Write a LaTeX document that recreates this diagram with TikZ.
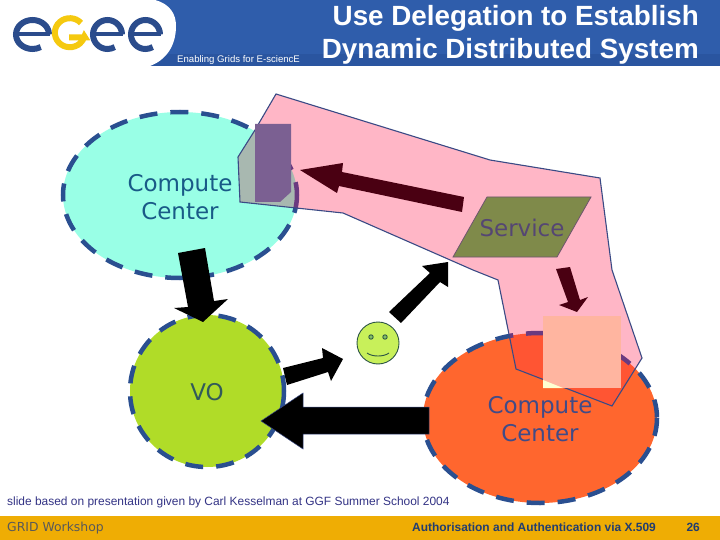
\documentclass[tikz,border=0pt]{standalone}
\usepackage{fontspec}
\setmainfont{Liberation Sans}
\newfontfamily\dvu{DejaVu Sans}
\definecolor{bandblue}{HTML}{2F5DAB}
\definecolor{banddark}{HTML}{2A55A0}
\definecolor{logoblue}{HTML}{2B4C8C}
\definecolor{logoyel}{HTML}{F5C90F}
\definecolor{dashblue}{HTML}{2A4F90}
\definecolor{pinkreg}{HTML}{FFB6C6}
\definecolor{edgeblue}{HTML}{3A4A85}
\definecolor{footy}{HTML}{EFAD04}
\definecolor{darkred}{HTML}{4A0012}
\definecolor{cyanfill}{HTML}{99FFE6}
\definecolor{limefill}{HTML}{B0DC28}
\definecolor{orangefill}{HTML}{FF662E}
\definecolor{greyover}{HTML}{A8B8B0}
\definecolor{redover}{HTML}{FF5533}
\definecolor{purpledash}{HTML}{6A3A80}
\def\regionpath{(276,94) -- (490,160) -- (600,178) -- (612,270) -- (642,358) -- (612,406) -- (516,369) -- (498,280) -- (473,270) -- (343,213) -- (240,202) -- (238,157) -- (255,130) -- cycle}
\tikzset{
  centre/.style={line width=4.5pt,dash pattern=on 18pt off 13pt,draw=dashblue},
  bigtext/.style={font=\dvu\fontsize{23}{28}\selectfont,align=center,inner sep=0pt},
  eletter/.style={line width=6pt,draw=logoblue,line cap=butt},
  ebar/.style={line width=4pt,draw=logoblue,line cap=butt},
  blackarrow/.style={fill=black,draw=none},
  redarrow/.style={fill=darkred,draw=none},
  smileline/.style={draw={rgb,255:red,45;green,85;blue,70},line width=.9pt},
}
\begin{document}
\begin{tikzpicture}[x=1pt,y=-1pt]
\useasboundingbox (0,0) rectangle (720,540);
\fill[white] (0,0) rectangle (720,540);
% header
\fill[bandblue] (140,0) rectangle (720,66);
\fill[banddark] (150,54) rectangle (720,66);
\fill[white] (0,0) -- (155,0) .. controls (170,4) and (176,14) .. (176,26) .. controls (176,46) and (166,60) .. (150,66) -- (0,66) -- cycle;
% logo
\draw[eletter] (49,34.5) arc[start angle=0,end angle=-300,x radius=16.5,y radius=14.5];
\draw[ebar] (17,34.5) -- (50,34.5);
\draw[line width=6pt,draw=logoyel] (81,23) arc[start angle=-42,end angle=-345,x radius=15,y radius=14.5] -- (85,37.5) -- (69,37.5);
\draw[eletter] (122,34.5) arc[start angle=0,end angle=-300,x radius=14.5,y radius=14.5];
\draw[ebar] (93,34.5) -- (123,34.5);
\draw[eletter] (160,34.5) arc[start angle=0,end angle=-300,x radius=14.5,y radius=14.5];
\draw[ebar] (131,34.5) -- (161,34.5);
\node[anchor=west,inner sep=0pt,text=white,font=\fontsize{9.6}{11}\selectfont] (tag) at (177,60) {Enabling Grids for E-sciencE};
\node[anchor=east,inner sep=0pt,text=white,font=\bfseries\fontsize{27.8}{33}\selectfont] (t1) at (699,18) {Use Delegation to Establish};
\node[anchor=east,inner sep=0pt,text=white,font=\bfseries\fontsize{27.8}{33}\selectfont] (t2) at (699,51) {Dynamic Distributed System};
% footer
\fill[footy] (0,516) rectangle (720,540);
\node[anchor=west,inner sep=0pt,text=black!65,font=\dvu\fontsize{12.4}{14}\selectfont] (f1) at (7,528) {GRID Workshop};
\node[anchor=east,inner sep=0pt,text=logoblue!80!black,font=\bfseries\fontsize{11.95}{14}\selectfont] (f2) at (656,527) {Authorisation and Authentication via X.509};
\node[anchor=east,inner sep=0pt,text=logoblue!80!black,font=\bfseries\fontsize{11.95}{14}\selectfont] (f3) at (700,527) {26};
\node[anchor=west,inner sep=0pt,text=black!60!blue!80!white,font=\fontsize{11.95}{14}\selectfont] (cap) at (7,502.5) {slide based on presentation given by Carl Kesselman at GGF Summer School 2004};
% ellipses
\path[fill=cyanfill] (180,195) ellipse[x radius=117,y radius=83];
\draw[centre] (180,195) ellipse[x radius=117,y radius=83];
\path[fill=limefill] (207,391) ellipse[x radius=77,y radius=76];
\draw[centre] (207,391) ellipse[x radius=77,y radius=76];
\path[fill=orangefill] (540,418) ellipse[x radius=117,y radius=85];
\draw[centre] (540,418) ellipse[x radius=117,y radius=85];
% region
\path[fill=pinkreg] \regionpath;
\begin{scope}
\clip \regionpath;
\path[fill=greyover] (180,195) ellipse[x radius=117,y radius=83];
\draw[centre,draw=purpledash] (180,195) ellipse[x radius=117,y radius=83];
\path[fill=redover] (540,418) ellipse[x radius=117,y radius=85];
\draw[centre,draw=purpledash] (540,418) ellipse[x radius=117,y radius=85];
\end{scope}
\draw[edgeblue,line width=1.1pt,line join=miter] \regionpath;
% patches
\fill[fill={rgb,255:red,123;green,96;blue,146}] (255,124) -- (291,124) -- (291,192) -- (280,202) -- (255,202) -- cycle;
\fill[fill={rgb,255:red,255;green,181;blue,160}] (543,316) rectangle (621,388);
\fill[fill={rgb,255:red,255;green,255;blue,210}] (543,380) -- (543,388) -- (563,388) -- cycle;
% service
\draw[fill={rgb,255:red,127;green,138;blue,74},draw={rgb,255:red,110;green,85;blue,110},line width=.8pt] (487,197) -- (591,197) -- (557,257) -- (453,257) -- cycle;
\node[bigtext,text={rgb,255:red,85;green,70;blue,115}] (svc) at (522,228) {Service};
% texts
\node[bigtext,text={rgb,255:red,25;green,90;blue,135}] (cc1) at (180,197) {Compute\\Center};
\node[bigtext,text={rgb,255:red,50;green,90;blue,90}] (vo) at (207,392) {VO};
\node[bigtext,text={rgb,255:red,65;green,75;blue,135}] (cc2) at (540,419) {Compute\\Center};
% arrows
\fill[redarrow] (300,170) -- (343,163) -- (342,172) -- (464,197) -- (462,212) -- (339,186) -- (337,193) -- cycle;
\fill[redarrow] (556,269) -- (570,267) -- (580,300) -- (588,297) -- (577,312) -- (559,305) -- (568,302) -- cycle;
\fill[blackarrow] (178,253) -- (205,248) -- (214,301) -- (228,299) -- (203,322) -- (174,308) -- (188,307) -- cycle;
\fill[blackarrow] (283,368) -- (323,358) -- (322,348) -- (343,359) -- (331,381) -- (328,372) -- (287,385) -- cycle;
\draw[blackarrow,draw=edgeblue,line width=.5pt] (429,407) -- (303,407) -- (303,393) -- (261,421) -- (303,449) -- (303,434) -- (429,434) -- cycle;
\fill[blackarrow] (389,312) -- (430,273) -- (422,266) -- (448,262) -- (448,287) -- (440,282) -- (401,323) -- cycle;
% smiley
\draw[smileline,fill={rgb,255:red,200;green,240;blue,90}] (378,343) circle[radius=21];
\draw[smileline,fill={rgb,255:red,130;green,190;blue,100}] (371,337) circle[radius=2.2];
\draw[smileline,fill={rgb,255:red,130;green,190;blue,100}] (385,337) circle[radius=2.2];
\draw[smileline] (367,353) .. controls (372,357) and (384,357) .. (389,353);
\end{tikzpicture}
\end{document}
